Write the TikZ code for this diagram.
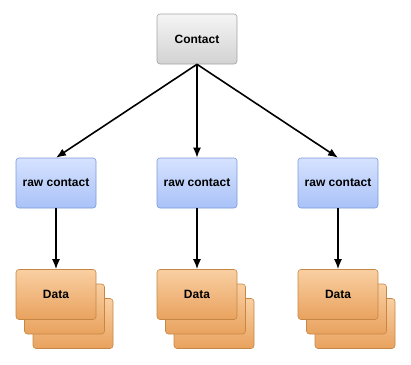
\documentclass[tikz,border=0pt]{standalone}
\usepackage{fontspec}
\setmainfont{Liberation Sans}
\usetikzlibrary{arrows.meta}

\definecolor{grayTop}{HTML}{F5F5F5}
\definecolor{grayBot}{HTML}{D2D2D2}
\definecolor{grayLine}{HTML}{A4A4A4}
\definecolor{blueTop}{HTML}{D6E2FF}
\definecolor{blueBot}{HTML}{A9C2F7}
\definecolor{blueLine}{HTML}{7C9AD8}
\definecolor{dataTop}{HTML}{F9CFA2}
\definecolor{dataBot}{HTML}{E9A25E}
\definecolor{dataLine}{HTML}{C68745}

\tikzset{
  box/.style={draw, rounded corners=3pt, minimum width=80pt, minimum height=50pt,
    inner sep=0pt, font=\fontsize{12}{14}\selectfont\bfseries, line width=0.6pt}, % 基本方框
  contact box/.style={box, draw=grayLine, top color=grayTop, bottom color=grayBot}, % 联系人
  raw box/.style={box, draw=blueLine, top color=blueTop, bottom color=blueBot}, % 原始联系人
  data box/.style={box, draw=dataLine, top color=dataTop, bottom color=dataBot}, % 数据
  link/.style={draw, line width=1.6pt, -{Latex[length=10pt,width=8pt]}} % 箭头样式
}

\begin{document}
\begin{tikzpicture}[x=1pt,y=-1pt]
    \useasboundingbox (0,0) rectangle (411,364);

    \node[contact box] (contact) at (197,39) {Contact};

    \foreach \i/\x in {1/56,2/197,3/338} {
      % 叠放的数据卡片
      \node[data box] (data\i c) at (\x+17,323.5) {};
      \node[data box] (data\i b) at (\x+8.5,309) {};
      \node[data box] (data\i) at (\x,294.5) {Data};
      \node[raw box] (raw\i) at (\x,183) {raw contact};
      \draw[link] (contact.south) -- (raw\i.north);
      \draw[link] (raw\i.south) -- (data\i.north);
    }
\end{tikzpicture}
\end{document}
